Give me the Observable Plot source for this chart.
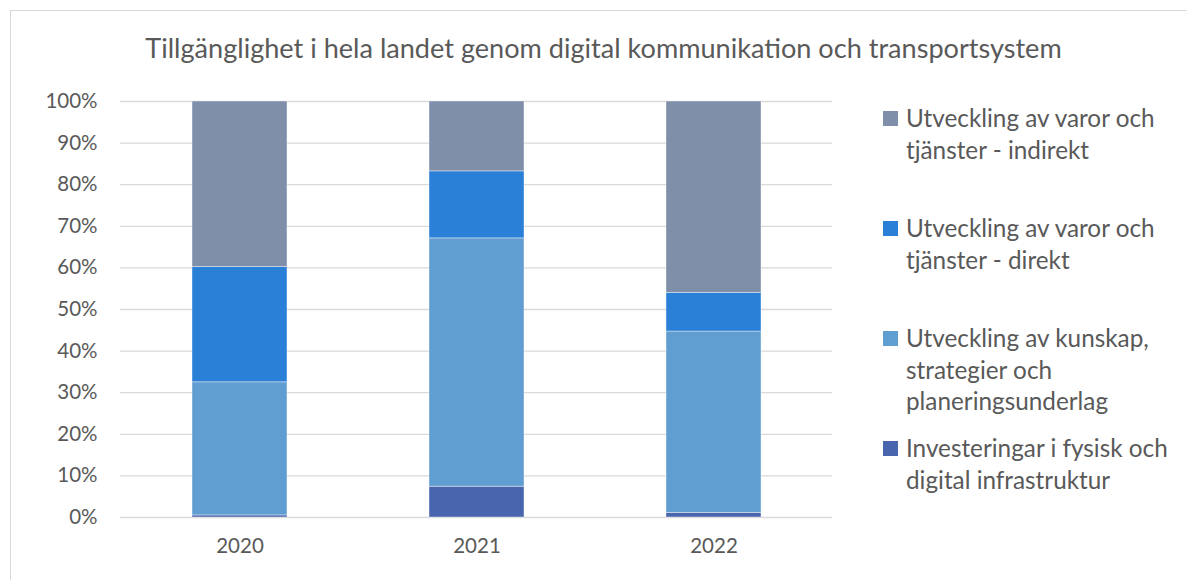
<!DOCTYPE html>
<html>
<head>
<meta charset="utf-8">
<script src="https://cdn.jsdelivr.net/npm/d3@7"></script>
<script src="https://cdn.jsdelivr.net/npm/@observablehq/plot@0.6"></script>
<style>
  body { margin: 0; background: #fff; overflow: hidden; }
  #wrap { position: relative; width: 1187px; height: 580px; overflow: hidden; font-family: Lato, "Open Sans", sans-serif; color: #595959; }
  #frame { position: absolute; left: 10px; top: 10px; width: 1200px; height: 600px; border: 1px solid #d9d9d9; box-sizing: border-box; }
  #title { position: absolute; left: 10px; width: 1187px; top: 31px; text-align: center; font-size: 27.1px; color: #595959; }
  #legend { position: absolute; left: 883px; top: 0; }
  .item { position: absolute; left: 0; width: 300px; }
  .sw { position: absolute; left: 0; width: 15px; height: 15px; }
  .lab { position: absolute; left: 23px; font-size: 24.3px; line-height: 31.7px; white-space: nowrap; }
  #chart { position: absolute; left: 0; top: 0; }
</style>
</head>
<body>
<div id="wrap">
  <div id="frame"></div>
  <div id="chart"></div>
  <div id="title">Tillgänglighet i hela landet genom digital kommunikation och transportsystem</div>
  <div id="legend"></div>
</div>
<script>
const years = ["2020", "2021", "2022"];
const seriesNames = [
  "Investeringar i fysisk och digital infrastruktur",
  "Utveckling av kunskap, strategier och planeringsunderlag",
  "Utveckling av varor och tjänster - direkt",
  "Utveckling av varor och tjänster - indirekt"
];
const legendLines = [
  ["Investeringar i fysisk och", "digital infrastruktur"],
  ["Utveckling av kunskap,", "strategier och", "planeringsunderlag"],
  ["Utveckling av varor och", "tjänster - direkt"],
  ["Utveckling av varor och", "tjänster - indirekt"]
];
const seriesColors = ["#4865ad", "#609ed2", "#2a7fd7", "#7f8fa9"];
const infra    = [0.5, 7.4, 1.1];
const kunskap  = [32.0, 59.7, 43.6];
const direkt   = [27.7, 16.1, 9.3];
const indirekt = [39.8, 16.8, 46.0];
const yTicks = [0, 10, 20, 30, 40, 50, 60, 70, 80, 90, 100];

const seriesValues = [infra, kunskap, direkt, indirekt];
const rows = [];
seriesNames.forEach((s, i) => years.forEach((y, j) => rows.push({year: y, series: s, value: seriesValues[i][j]})));

const chart = Plot.plot({
  width: 1187,
  height: 580,
  marginLeft: 120,
  marginRight: 355,
  marginTop: 101,
  marginBottom: 63,
  style: {fontFamily: "Lato, 'Open Sans', sans-serif", fontSize: "20.5px", color: "#595959", background: "transparent"},
  x: {domain: years, paddingInner: 0.6, paddingOuter: 0.3, label: null, tickSize: 0, tickPadding: 22},
  y: {domain: [0, 100], ticks: yTicks, tickFormat: d => d + "%", label: null, tickSize: 0, tickPadding: 23},
  color: {domain: seriesNames, range: seriesColors},
  marks: [
    Plot.gridY(yTicks, {stroke: "#d9d9d9", strokeOpacity: 1, strokeWidth: 1.3}),
    Plot.barY(rows, {x: "year", y: "value", fill: "series", order: seriesNames, stroke: "#ffffff", strokeOpacity: 0.5, strokeWidth: 0.8}),
    Plot.axisX({tickSize: 0, tickPadding: 21, fontSize: 20.5}),
    Plot.axisY({ticks: yTicks, tickFormat: d => d + "%", tickSize: 0, tickPadding: 23, fontSize: 20.5})
  ]
});
document.getElementById("chart").appendChild(chart);

// legend (top to bottom: reverse of stack order)
const legendTops = [102, 212, 322, 432];
const legend = document.getElementById("legend");
[3, 2, 1, 0].forEach((si, k) => {
  const it = document.createElement("div");
  it.className = "item";
  it.style.top = legendTops[k] + "px";
  const sw = document.createElement("div");
  sw.className = "sw";
  sw.style.background = seriesColors[si];
  sw.style.top = "9px";
  const lab = document.createElement("div");
  lab.className = "lab";
  lab.style.top = "0px";
  lab.innerHTML = legendLines[si].join("<br>");
  it.appendChild(sw);
  it.appendChild(lab);
  legend.appendChild(it);
});
</script>
</body>
</html>
